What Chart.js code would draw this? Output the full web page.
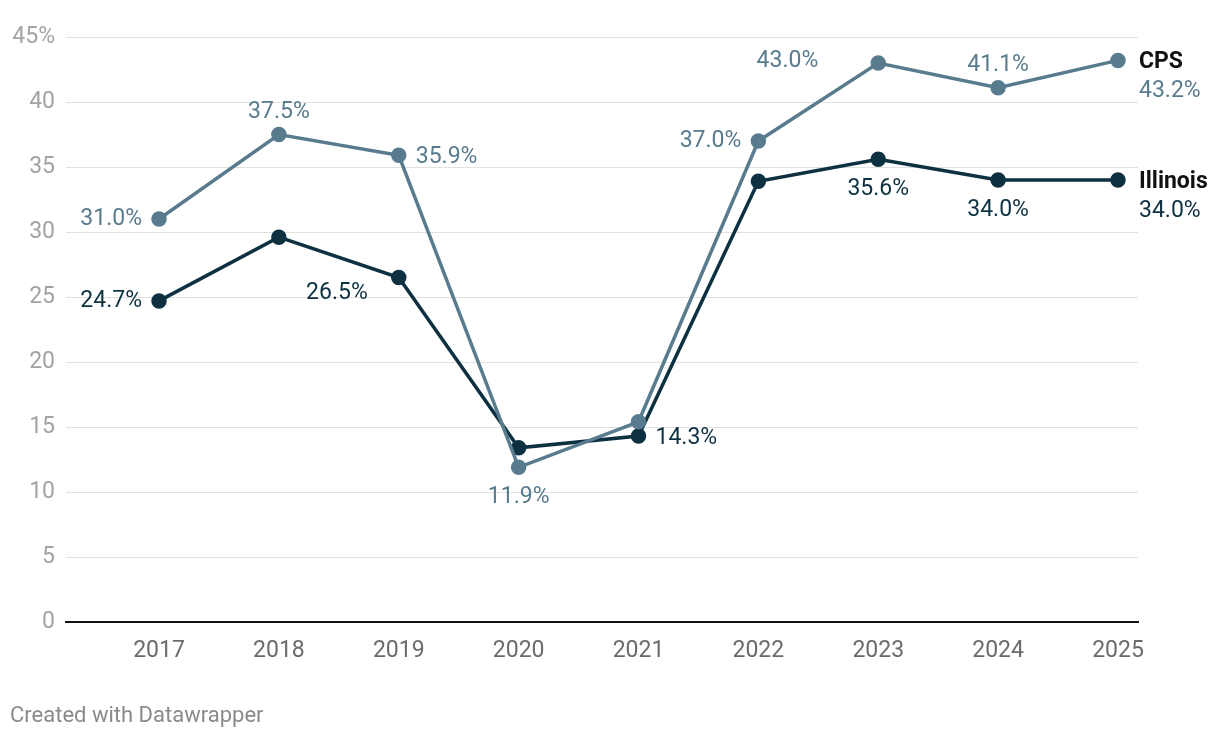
<!DOCTYPE html>
<html>
<head>
<meta charset="utf-8">
<script src="https://cdn.jsdelivr.net/npm/chart.js@4"></script>
<style>
  html, body { margin: 0; padding: 0; background: #fff; }
  #wrap { position: relative; width: 1220px; height: 738px; }
  #footer { position: absolute; left: 10px; top: 702px; font: 22px Roboto, sans-serif; color: #8a8a8a; }
</style>
</head>
<body>
<div id="wrap">
  <canvas id="chart" width="1220" height="738"></canvas>
  <div id="footer">Created with Datawrapper</div>
</div>
<script>
// ── data ─────────────────────────────────
const years    = [2017, 2018, 2019, 2020, 2021, 2022, 2023, 2024, 2025];
const cps      = [31.0, 37.5, 35.9, 11.9, 15.4, 37.0, 43.0, 41.1, 43.2];
const illinois = [24.7, 29.6, 26.5, 13.4, 14.3, 33.9, 35.6, 34.0, 34.0];
const yTicks   = [0, 5, 10, 15, 20, 25, 30, 35, 40, 45];

// where each value label goes (null = no label, 'end' = series label at the right)
const cpsLabelPos = ['left', 'top', 'right', 'bottom', null, 'left', 'leftfar', 'top', 'end'];
const ilLabelPos  = ['left', null, 'bottomleft', null, 'right', null, 'bottom', 'bottom', 'end'];

const CPS_COLOR = '#587b8e';
const IL_COLOR  = '#0e3142';
const FONT = 'Roboto, sans-serif';
const FSIZE = 23;

// ── value labels plugin ──────────────────
const valueLabels = {
  id: 'valueLabels',
  afterDatasetsDraw(chart) {
    const ctx = chart.ctx;
    chart.data.datasets.forEach((ds, di) => {
      const meta = chart.getDatasetMeta(di);
      meta.data.forEach((pt, i) => {
        const pos = ds.labelPos[i];
        if (!pos) return;
        const txt = ds.data[i].y.toFixed(1) + '%';
        let x = pt.x, y = pt.y + 2, align = 'center';
        ctx.save();
        ctx.font = FSIZE + 'px ' + FONT;
        ctx.fillStyle = ds.borderColor;
        ctx.textBaseline = 'middle';
        if (pos === 'left')       { x -= 17; align = 'right'; y -= 2; }
        if (pos === 'leftfar')    { x -= 60; align = 'right'; y -= 4; }
        if (pos === 'right')      { x += 17; align = 'left'; }
        if (pos === 'top')        { y -= 24; }
        if (pos === 'bottom')     { y += 28; }
        if (pos === 'bottomleft') { x -= 31; y += 14; align = 'right'; }
        if (pos === 'end') {
          ctx.textAlign = 'left';
          ctx.fillStyle = '#111';
          ctx.font = 'bold ' + FSIZE + 'px ' + FONT;
          ctx.fillText(ds.label, x + 21, y);
          ctx.fillStyle = ds.borderColor;
          ctx.font = FSIZE + 'px ' + FONT;
          ctx.fillText(txt, x + 21, y + 29);
          ctx.restore();
          return;
        }
        ctx.textAlign = align;
        ctx.fillText(txt, x, y);
        ctx.restore();
      });
    });
  }
};

const toXY = arr => arr.map((v, i) => ({ x: years[i], y: v }));

new Chart(document.getElementById('chart'), {
  type: 'line',
  data: {
    datasets: [
      {
        label: 'CPS',
        data: toXY(cps),
        labelPos: cpsLabelPos,
        borderColor: CPS_COLOR,
        backgroundColor: CPS_COLOR,
        borderWidth: 3.5,
        pointRadius: 6,
        pointHoverRadius: 6,
        tension: 0,
      },
      {
        label: 'Illinois',
        data: toXY(illinois),
        labelPos: ilLabelPos,
        borderColor: IL_COLOR,
        backgroundColor: IL_COLOR,
        borderWidth: 3.5,
        pointRadius: 6,
        pointHoverRadius: 6,
        tension: 0,
      },
    ],
  },
  options: {
    responsive: false,
    animation: false,
    layout: { padding: { top: 37, right: 82, bottom: 0, left: 0 } },
    plugins: { legend: { display: false }, tooltip: { enabled: false } },
    scales: {
      x: {
        type: 'linear',
        min: 2016.224,
        max: 2025.167,
        afterBuildTicks: s => { s.ticks = years.map(v => ({ value: v })); },
        afterFit: s => { s.height = 116; },
        grid: { display: false, drawTicks: false },
        border: { color: '#111', width: 2 },
        ticks: { padding: 15, color: '#6b6b6b', font: { family: FONT, size: FSIZE }, callback: v => String(v) },
      },
      y: {
        min: 0,
        max: 45,
        afterBuildTicks: s => { s.ticks = yTicks.map(v => ({ value: v })); },
        afterFit: s => { s.width = 66; },
        grid: { color: c => c.tick.value === 0 ? 'transparent' : '#e1e1e1', lineWidth: 1, drawTicks: false },
        border: { display: false },
        ticks: { padding: 11, color: '#a3a3a3', font: { family: FONT, size: FSIZE },
                 callback: v => v === 45 ? '45%' : String(v) },
      },
    },
  },
  plugins: [valueLabels],
});
</script>
</body>
</html>
